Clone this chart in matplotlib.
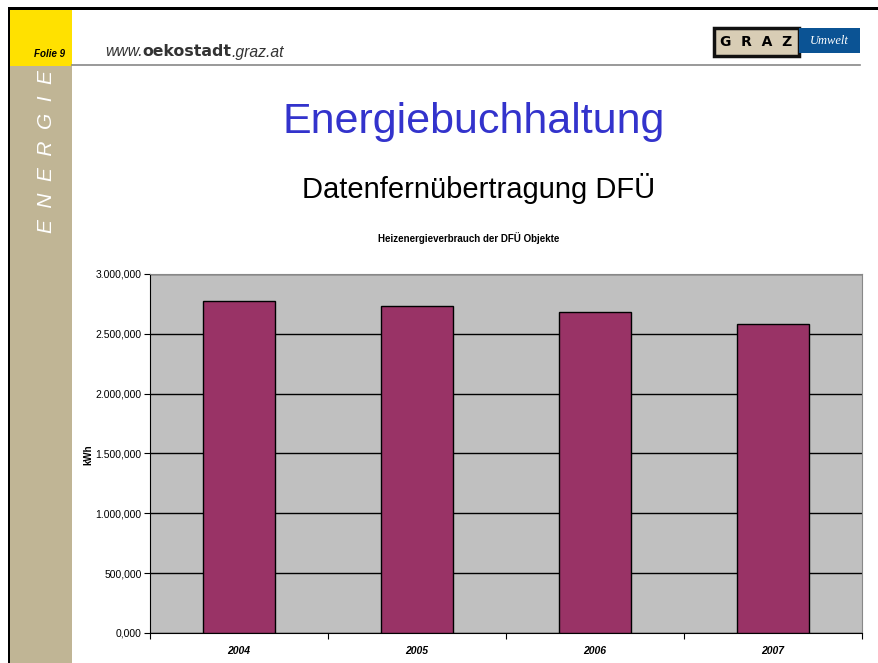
import matplotlib.pyplot as plt
from matplotlib.patches import Rectangle
from matplotlib.ticker import FixedLocator, NullFormatter
import numpy as np

# data
years = ['2004', '2005', '2006', '2007']
consumption = [2775000, 2735000, 2680000, 2580000]
ytick_values = [0, 500000, 1000000, 1500000, 2000000, 2500000, 3000000]
ytick_labels = ['0,000', '500,000', '1.000,000', '1.500,000',
                '2.000,000', '2.500,000', '3.000,000']

plt.rcParams['font.family'] = ['Liberation Sans', 'DejaVu Sans']

W, H = 879, 663
fig = plt.figure(figsize=(W / 100, H / 100), dpi=100)


def fx(px):
    return px / W


def fy(py):
    return 1 - py / H


# slide decoration: border, yellow box, tan strip
fig.add_artist(Rectangle((fx(8), fy(663)), fx(2), fy(8) - fy(663),
                         transform=fig.transFigure, color='black', lw=0))
fig.add_artist(Rectangle((fx(8), fy(10)), 1, fy(7) - fy(10),
                         transform=fig.transFigure, color='black', lw=0))
fig.add_artist(Rectangle((fx(10), fy(66)), fx(62), fy(10) - fy(66),
                         transform=fig.transFigure, color='#FFE100', lw=0))
fig.add_artist(Rectangle((fx(10), fy(663)), fx(62), fy(66) - fy(663),
                         transform=fig.transFigure, color='#C0B595', lw=0))
fig.add_artist(plt.Line2D([fx(72), fx(860)], [fy(65), fy(65)],
                          transform=fig.transFigure, color='#888888', lw=1.2))

fig.text(fx(65), fy(54), 'Folie 9', fontsize=7, fontweight='bold',
         fontstyle='italic', ha='right', va='center')
fig.text(fx(47), fy(152), 'E  N  E  R  G  I  E', fontsize=15, color='white',
         fontstyle='italic', rotation=90, ha='center', va='center')

# url, pieces placed one after another
renderer = fig.canvas.get_renderer()
xpos = 105
for part, weight, style in [('www.', 'normal', 'italic'),
                            ('oekostadt', 'bold', 'normal'),
                            ('.graz.at', 'normal', 'italic')]:
    t = fig.text(fx(xpos), fy(52), part, fontsize=11.3, fontweight=weight,
                 fontstyle=style, color='#333333', ha='left', va='center',
                 family='DejaVu Sans' if weight == 'bold' else 'Liberation Sans')
    xpos += t.get_window_extent(renderer).width

# GRAZ Umwelt logo
fig.add_artist(Rectangle((fx(714), fy(56)), fx(85), fy(28) - fy(56),
                         transform=fig.transFigure, facecolor='#D8CDB5',
                         edgecolor='#111111', lw=2.5))
fig.text(fx(756), fy(42), 'G  R  A  Z', fontsize=10, fontweight='bold',
         ha='center', va='center', family='DejaVu Sans')
fig.add_artist(Rectangle((fx(799), fy(53)), fx(61), fy(28) - fy(53),
                         transform=fig.transFigure, facecolor='#0B5394', lw=0))
fig.text(fx(829), fy(41), 'Umwelt', fontsize=9, fontstyle='italic',
         color='white', ha='center', va='center', family='Liberation Serif')

# headings
fig.text(fx(474), fy(122), 'Energiebuchhaltung', fontsize=31,
         color='#3333CC', ha='center', va='center')
fig.text(fx(479), fy(188), 'Datenfernübertragung DFÜ', fontsize=21,
         ha='center', va='center')
fig.text(fx(469), fy(238), 'Heizenergieverbrauch der DFÜ Objekte',
         fontsize=7, fontweight='bold', ha='center', va='center')

# chart
ax = fig.add_axes([fx(150), fy(633), fx(862) - fx(150), fy(274) - fy(633)])
ax.set_facecolor('#C0C0C0')
x = np.arange(len(years))
ax.set_axisbelow(True)
ax.yaxis.grid(True, color='black', lw=1)
ax.bar(x, consumption, width=0.4, color='#993366', edgecolor='black', lw=1,
       zorder=3)
ax.set_xlim(-0.5, len(years) - 0.5)
ax.set_ylim(0, 3000000)
ax.set_yticks(ytick_values)
ax.set_yticklabels(ytick_labels, fontsize=7.5)
ax.xaxis.set_major_locator(FixedLocator(np.arange(-0.5, len(years), 1)))
ax.xaxis.set_major_formatter(NullFormatter())
ax.xaxis.set_minor_locator(FixedLocator(x))
ax.set_xticklabels(years, minor=True, fontsize=7.5, fontweight='bold',
                   fontstyle='italic')
ax.tick_params(axis='x', which='minor', length=0, pad=9)
ax.tick_params(axis='x', which='major', length=4, direction='out')
ax.tick_params(axis='y', length=4, direction='out', pad=2)
ax.set_ylabel('kWh', fontsize=7, fontweight='bold', va='center')
ax.yaxis.set_label_coords(fx(88), fy(455), transform=fig.transFigure)
for side in ['top', 'right']:
    ax.spines[side].set_color('#888888')
for side in ['left', 'bottom']:
    ax.spines[side].set_color('black')

plt.savefig('out.png', dpi=100)
